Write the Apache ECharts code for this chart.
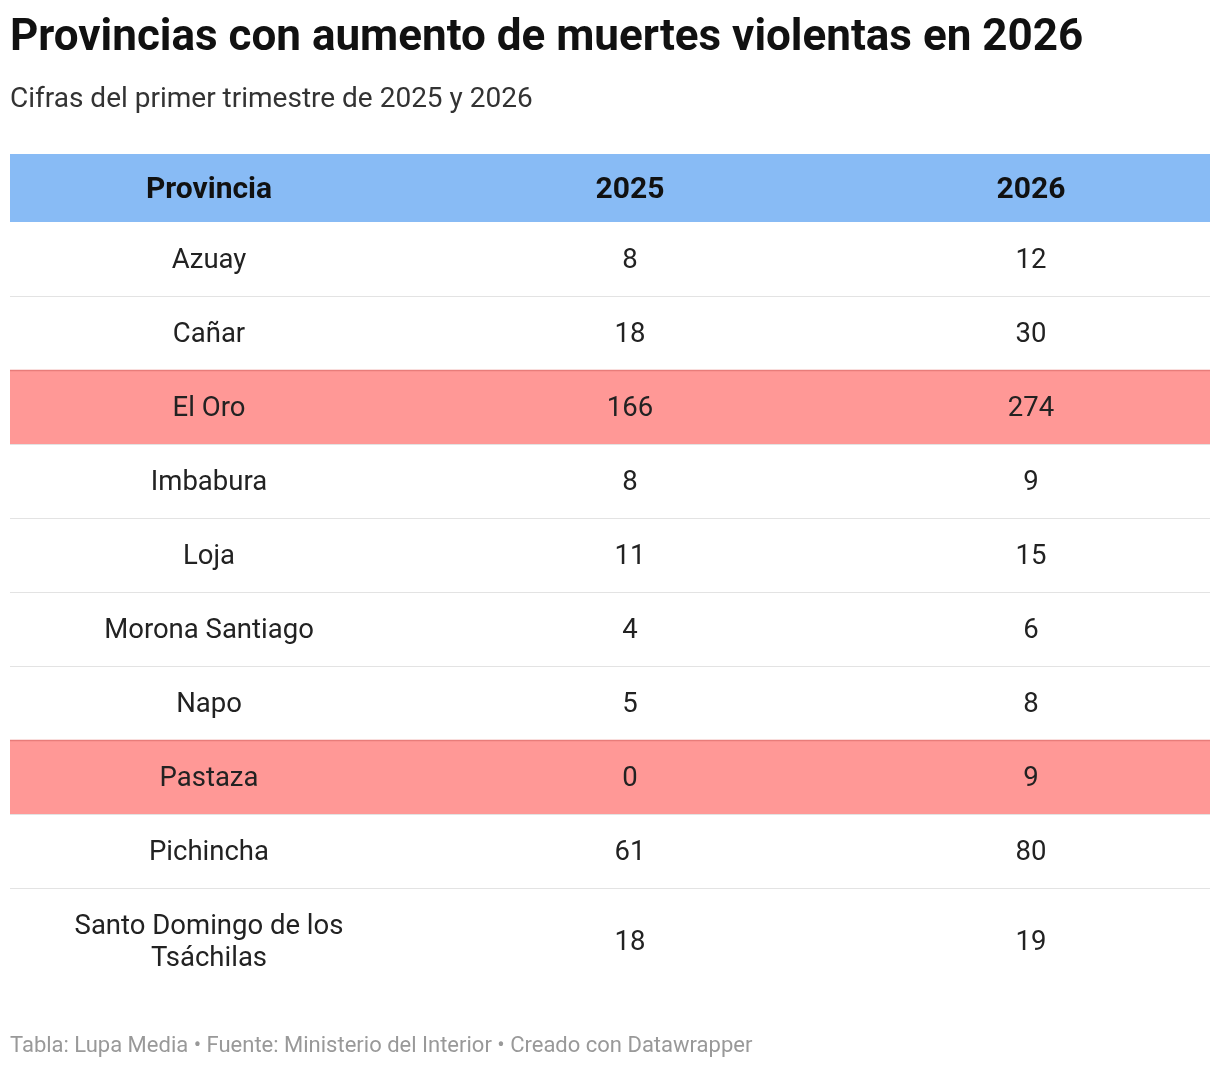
<!DOCTYPE html>
<html><head><meta charset="utf-8">
<script src="https://cdn.jsdelivr.net/npm/echarts@6/dist/echarts.min.js"></script>
<style>html,body{margin:0;background:#fff}#main{width:1220px;height:1068px}</style>
</head><body><div id="main"></div>
<script>
const headers = ["Provincia", "2025", "2026"];
const provincias = ["Azuay","Cañar","El Oro","Imbabura","Loja","Morona Santiago","Napo","Pastaza","Pichincha","Santo Domingo de los\nTsáchilas"];
const v2025 = [8,18,166,8,11,4,5,0,61,18];
const v2026 = [12,30,274,9,15,6,8,9,80,19];
const highlighted = ["El Oro","Pastaza"];

const colX = [209, 630, 1031];
const left = 10, width = 1200, headTop = 154, headH = 68, rowH = 74;
let g = [];
g.push({type:'text', left:10, top:17, style:{text:"Provincias con aumento de muertes violentas en 2026", font:"bold 44px Roboto", fill:"#111"}});
g.push({type:'text', left:10, top:86, style:{text:"Cifras del primer trimestre de 2025 y 2026", font:"28px Roboto", fill:"#333"}});
g.push({type:'rect', shape:{x:left, y:headTop, width:width, height:headH}, style:{fill:"#88bbf5"}});
headers.forEach((h, c) => g.push({type:'text', x:colX[c], y:headTop+headH/2+2, style:{text:h, font:"bold 30px Roboto", fill:"#111", align:'center', verticalAlign:'middle'}}));
let y = headTop + headH;
provincias.forEach((p, i) => {
  const last = i === provincias.length - 1;
  const h = last ? 108 : rowH;
  if (highlighted.includes(p)) {
    g.push({type:'rect', shape:{x:left, y:y, width:width, height:h}, style:{fill:"#ff9896"}});
    g.push({type:'line', shape:{x1:left, y1:y+0.5, x2:left+width, y2:y+0.5}, style:{stroke:"#e87c7a", lineWidth:1.5}});
  } else if (i > 0) {
    g.push({type:'line', shape:{x1:left, y1:y+0.5, x2:left+width, y2:y+0.5}, style:{stroke:"#e3e3e3", lineWidth:1}});
  }
  const cy = y + (last ? 55 : h/2 + 2);
  [p, String(v2025[i]), String(v2026[i])].forEach((t, c) => g.push({type:'text', x:colX[c], y:cy, style:{text:t, font:"27.5px Roboto", lineHeight:32, fill:"#222", align:'center', verticalAlign:'middle'}}));
  y += h;
});
g.push({type:'text', left:10, top:1035, style:{text:"Tabla: Lupa Media • Fuente: Ministerio del Interior • Creado con Datawrapper", font:"22px Roboto", fill:"#999"}});

const chart = echarts.init(document.getElementById('main'));
chart.setOption({backgroundColor:"#fff", graphic:{elements:g}});
</script></body></html>
